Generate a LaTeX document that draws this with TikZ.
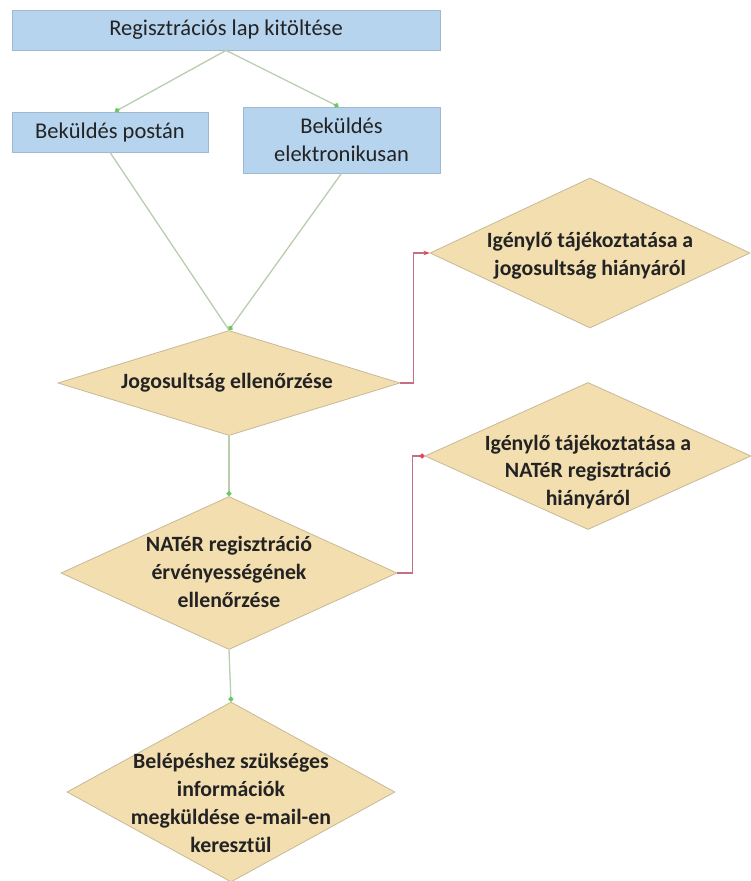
\documentclass[tikz,border=0pt]{standalone}
\usepackage{fontspec}
\setmainfont{Carlito}
\usetikzlibrary{shapes.geometric,arrows.meta,calc}
\definecolor{boxfill}{RGB}{182,212,238}
\definecolor{boxline}{RGB}{160,185,210}
\definecolor{diafill}{RGB}{243,222,176}
\definecolor{dialine}{RGB}{200,185,150}
\definecolor{greenline}{RGB}{185,205,175}
\definecolor{greentip}{RGB}{110,200,100}
\definecolor{redline}{RGB}{200,110,130}
\definecolor{redtip}{RGB}{225,70,90}
\definecolor{txt}{RGB}{35,35,35}
\tikzset{
  x=1pt,y=-1pt,
  every node/.style={text=txt,font=\fontsize{22.5}{27.5}\selectfont},
  procbox/.style={draw=boxline,fill=boxfill,line width=0.8pt,rectangle,inner sep=0pt,align=center},
  decision/.style={draw=dialine,fill=diafill,line width=0.8pt,diamond,inner sep=0pt,aspect=2},
  lbl/.style={align=center,inner sep=0pt,font=\fontsize{21.8}{27.8}\selectfont\bfseries},
  flow/.style={draw=greenline,line width=1.3pt,-{Circle[length=5pt,color=greentip]}},
  flowplain/.style={draw=greenline,line width=1.3pt},
  reject/.style={draw=redline,line width=1.1pt,-{Stealth[length=6pt,color=redtip]}},
  rejectdot/.style={draw=redline,line width=1.1pt,-{Circle[length=5pt,color=redtip]}}
}
\begin{document}
\begin{tikzpicture}
\useasboundingbox (0,0) rectangle (750,881);
\fill[white] (0,0) rectangle (750,881);

\node[procbox,minimum width=428pt,minimum height=40pt] (reg) at (226,30) {Regisztrációs lap kitöltése};
\node[procbox,minimum width=196pt,minimum height=40pt] (post) at (110,132) {Beküldés postán};
\node[procbox,minimum width=197pt,minimum height=66pt] (elek) at (341.5,140) {Beküldés\\elektronikusan};

\node[decision,minimum width=342pt,minimum height=105pt] (jog) at (229,383) {};
\node[lbl] (jogt) at (227,383) {Jogosultság ellenőrzése};
\node[decision,minimum width=320pt,minimum height=150pt] (info1) at (590,253) {};
\node[lbl] (info1t) at (590,256) {Igénylő tájékoztatása a\\jogosultság hiányáról};
\node[decision,minimum width=336pt,minimum height=153pt] (nater) at (229,573) {};
\node[lbl] (natert) at (229,572) {NATéR regisztráció\\érvényességének\\ellenőrzése};
\node[decision,minimum width=326pt,minimum height=147pt] (info2) at (588,456) {};
\node[lbl] (info2t) at (588,472) {Igénylő tájékoztatása a\\NATéR regisztráció\\hiányáról};
\node[decision,minimum width=328pt,minimum height=180pt] (belep) at (231,792) {};
\node[lbl] (belept) at (231,803) {Belépéshez szükséges\\információk\\megküldése e-mail-en\\keresztül};

\coordinate (postin) at ($(post.north)+(5,0)$);
\coordinate (elekin) at ($(elek.north)+(-3,0)$);
\draw[flow] (reg.south) -- (postin);
\draw[flow] (reg.south) -- (elekin);
\draw[flowplain] (post.south) -- (jog.north);
\draw[flow] (elek.south) -- (jog.north);
\draw[flow] (jog.south) -- (nater.north);
\draw[flow] (nater.south) -- (belep.north);

\draw[reject] (jog.east) -- ++(13,0) |- (info1.west);
\draw[rejectdot] (nater.east) -- ++(15,0) |- (info2.west);
\end{tikzpicture}
\end{document}
